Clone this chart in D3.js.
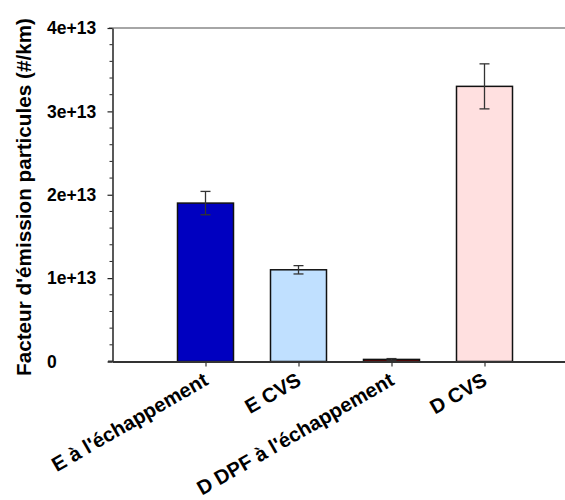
<!DOCTYPE html>
<html><head><meta charset="utf-8">
<script src="https://cdn.jsdelivr.net/npm/d3@7"></script>
<style>body{margin:0;background:#fff}svg{display:block}
.lbl{font-family:'Liberation Sans',Arial,sans-serif;font-weight:bold;fill:#000}</style>
</head><body>
<svg id="c" width="565" height="500"></svg>
<script>
const categories = ["E à l'échappement", "E CVS", "D DPF à l'échappement", "D CVS"];
const values = [1.9e13, 1.1e13, 2.5e11, 3.3e13];
const errors = [0.14e13, 0.05e13, 0.01e13, 0.27e13];
const colors = ["#0000c0", "#c0e0ff", "#7a0000", "#ffe0e0"];
const yTicks = [0, 1e13, 2e13, 3e13, 4e13];
const yTickLabels = ["0", "1e+13", "2e+13", "3e+13", "4e+13"];
const yTitle = "Facteur d'émission particules (#/km)";

const svg = d3.select("#c");
const x = d3.scaleLinear().domain([0, 5]).range([112.5, 577.5]);
const y = d3.scaleLinear().domain([0, 4e13]).range([361.5, 28]);
const bw = 56;

// top line
svg.append("line").attr("x1", 109).attr("x2", 565).attr("y1", y(4e13)).attr("y2", y(4e13))
  .attr("stroke", "#888").attr("stroke-width", 1.5);

// minor ticks
const minor = d3.range(0, 4e13 + 1, 2e12).filter(v => !yTicks.includes(v));
svg.append("g").selectAll("line").data(minor).join("line")
  .attr("x1", 109.5).attr("x2", 112.5).attr("y1", d => y(d)).attr("y2", d => y(d))
  .attr("stroke", "#222").attr("stroke-width", 1);

// y axis
const yAxis = d3.axisLeft(y).tickValues(yTicks).tickFormat("").tickSize(5).tickSizeOuter(0);
const gy = svg.append("g").attr("transform", "translate(112.5,0)").call(yAxis);
gy.select(".domain").attr("stroke", "#222").attr("stroke-width", 1.5);
gy.selectAll(".tick line").attr("stroke", "#222").attr("stroke-width", 1.2);
svg.append("g").selectAll("text").data(yTicks).join("text").attr("class", "lbl")
  .attr("x", 47).attr("y", d => y(d)).attr("dy", "0.36em")
  .attr("font-size", 17.5).text((d, i) => yTickLabels[i]);

// bars
svg.append("g").selectAll("rect").data(values).join("rect")
  .attr("x", (d, i) => x(i + 1) - bw / 2).attr("width", bw)
  .attr("y", d => y(d)).attr("height", d => y(0) - y(d))
  .attr("fill", (d, i) => colors[i]).attr("stroke", "#111").attr("stroke-width", 1.5);

// error bars
const eg = svg.append("g").attr("stroke", "#333").attr("stroke-width", 1.3);
values.forEach((v, i) => {
  const cx = x(i + 1);
  eg.append("line").attr("x1", cx).attr("x2", cx).attr("y1", y(v + errors[i])).attr("y2", y(v - errors[i]));
  eg.append("line").attr("x1", cx - 5).attr("x2", cx + 5).attr("y1", y(v + errors[i])).attr("y2", y(v + errors[i]));
  eg.append("line").attr("x1", cx - 5).attr("x2", cx + 5).attr("y1", y(v - errors[i])).attr("y2", y(v - errors[i]));
});

// x axis
const xAxis = d3.axisBottom(x).tickValues([1, 2, 3, 4]).tickFormat("").tickSize(5).tickSizeOuter(0);
const gx = svg.append("g").attr("transform", `translate(0,${y(0)})`).call(xAxis);
gx.select(".domain").attr("stroke", "#333").attr("stroke-width", 2);
gx.selectAll(".tick line").attr("stroke", "#333").attr("stroke-width", 1.2);
svg.append("line").attr("x1", 108).attr("x2", 113).attr("y1", y(0)).attr("y2", y(0)).attr("stroke", "#333").attr("stroke-width", 2);

// x labels
svg.append("g").selectAll("text").data(categories).join("text").attr("class", "lbl")
  .attr("transform", (d, i) => `translate(${x(i + 1) + 4},384) rotate(-30)`)
  .attr("text-anchor", "end").attr("font-size", 20.2)
  .text(d => d);

// y title
svg.append("text").attr("class", "lbl").attr("transform", "translate(31,197) rotate(-90)")
  .attr("text-anchor", "middle").attr("font-size", 20.7)
  .text(yTitle);
</script>
</body></html>
